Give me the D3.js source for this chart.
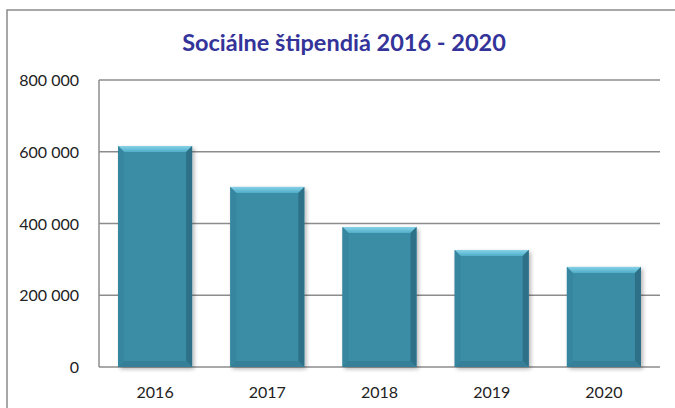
<!DOCTYPE html>
<html>
<head>
<meta charset="utf-8">
<script src="https://cdn.jsdelivr.net/npm/d3@7"></script>
<style>
  html, body { margin: 0; padding: 0; background: #fff; }
  svg { display: block; }
</style>
</head>
<body>
<svg id="chart" width="675" height="408"></svg>
<script>
const title = "Sociálne štipendiá 2016 - 2020";
const years = ["2016", "2017", "2018", "2019", "2020"];
const values = [616000, 502000, 390000, 326000, 279000];
const yTicks = [0, 200000, 400000, 600000, 800000];

const svg = d3.select("#chart");
const plot = { left: 99, right: 660, top: 80, bottom: 367 };

const defs = svg.append("defs");
const f = defs.append("filter").attr("id", "shadow").attr("x", "-20%").attr("y", "-20%").attr("width", "150%").attr("height", "150%");
f.append("feGaussianBlur").attr("in", "SourceAlpha").attr("stdDeviation", 2).attr("result", "b");
f.append("feOffset").attr("in", "b").attr("dx", 2).attr("dy", 2).attr("result", "o");
f.append("feComponentTransfer").attr("in", "o").attr("result", "s")
  .append("feFuncA").attr("type", "linear").attr("slope", 0.3);
const m = f.append("feMerge");
m.append("feMergeNode").attr("in", "s");
m.append("feMergeNode").attr("in", "SourceGraphic");

const topGrad = defs.append("linearGradient").attr("id", "topGrad").attr("x1", 0).attr("y1", 0).attr("x2", 0).attr("y2", 1);
topGrad.append("stop").attr("offset", "0%").attr("stop-color", "#86d3e8");
topGrad.append("stop").attr("offset", "100%").attr("stop-color", "#4fadc8");

// outer border
svg.append("rect").attr("x", 7).attr("y", 10).attr("width", 700).attr("height", 420)
  .attr("fill", "#fff").attr("stroke", "#8a8a8a").attr("stroke-width", 1.5);

svg.append("text").attr("x", 344).attr("y", 51).attr("text-anchor", "middle")
  .attr("font-family", "Lato, 'Open Sans', sans-serif").attr("font-weight", "bold")
  .attr("font-size", 23.5).attr("fill", "#333399").text(title);

const x = d3.scaleBand().domain(years).range([plot.left, plot.right]).paddingInner(0.34).paddingOuter(0.17);
const y = d3.scaleLinear().domain([0, 800000]).range([plot.bottom, plot.top]);
const fmt = v => d3.format(",")(v).replace(/,/g, " ");

// gridlines
svg.append("g").selectAll("line").data(yTicks).join("line")
  .attr("x1", plot.left).attr("x2", plot.right)
  .attr("y1", d => y(d)).attr("y2", d => y(d))
  .attr("stroke", "#8c8c8c").attr("stroke-width", 1.5);
// y axis line
svg.append("line").attr("x1", plot.left).attr("x2", plot.left).attr("y1", plot.top).attr("y2", plot.bottom)
  .attr("stroke", "#8c8c8c").attr("stroke-width", 1.5);

const yAxis = svg.append("g").attr("transform", `translate(${plot.left - 17},0)`)
  .call(d3.axisLeft(y).tickValues(yTicks).tickFormat(fmt).tickSize(0));
yAxis.select(".domain").remove();
yAxis.selectAll("text").attr("font-family", "Lato, sans-serif").attr("font-size", 16).attr("fill", "#222").attr("dy", "0.35em");

const xAxis = svg.append("g").attr("transform", `translate(0,${plot.bottom + 25})`)
  .call(d3.axisBottom(x).tickSize(0));
xAxis.select(".domain").remove();
xAxis.selectAll("text").attr("font-family", "Lato, sans-serif").attr("font-size", 16).attr("fill", "#222").attr("dy", "0.35em").attr("y", 0);

// bars with bevel
const bw = x.bandwidth();
const bev = 6;
const g = svg.append("g").selectAll("g").data(years.map((yr, i) => ({ yr, v: values[i] }))).join("g")
  .attr("transform", d => `translate(${x(d.yr)},${y(d.v)})`);
g.append("rect").attr("width", bw).attr("height", d => plot.bottom - y(d.v))
  .attr("fill", "#3a8ca5").attr("filter", "url(#shadow)");
// top bevel
g.append("path").attr("d", `M0,0 L${bw},0 L${bw - bev},${bev} L${bev},${bev} Z`).attr("fill", "url(#topGrad)");
// left bevel
g.append("path").attr("d", d => { const h = plot.bottom - y(d.v); return `M0,0 L${bev},${bev} L${bev},${h - bev} L0,${h} Z`; }).attr("fill", "#3686a0");
// right bevel
g.append("path").attr("d", d => { const h = plot.bottom - y(d.v); return `M${bw},0 L${bw - bev},${bev} L${bw - bev},${h - bev} L${bw},${h} Z`; }).attr("fill", "#2d7088");
// bottom bevel
g.append("path").attr("d", d => { const h = plot.bottom - y(d.v); return `M0,${h} L${bev},${h - bev} L${bw - bev},${h - bev} L${bw},${h} Z`; }).attr("fill", "#357f98");
</script>
</body>
</html>
